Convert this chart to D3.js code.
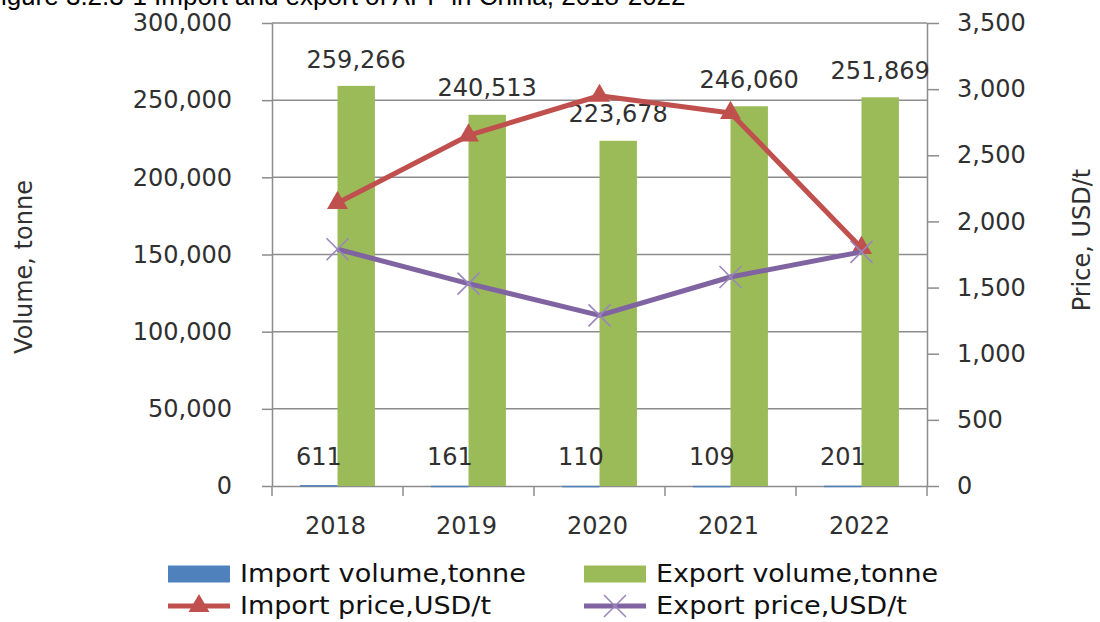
<!DOCTYPE html>
<html>
<head>
<meta charset="utf-8">
<script src="https://cdn.jsdelivr.net/npm/d3@7"></script>
<style>
  html, body { margin: 0; padding: 0; background: #ffffff; }
  svg { display: block; }
</style>
</head>
<body>
<svg id="chart" width="1100" height="622"></svg>
<script>
// Import / export of APP in China, 2018-2022
const years = ["2018", "2019", "2020", "2021", "2022"];
const importVolume = [611, 161, 110, 109, 201];          // tonne
const exportVolume = [259266, 240513, 223678, 246060, 251869]; // tonne
const importPrice = [2140, 2650, 2950, 2820, 1800];      // USD/t
const exportPrice = [1790, 1530, 1290, 1580, 1770];      // USD/t
const volumeTicks = [0, 50000, 100000, 150000, 200000, 250000, 300000];
const priceTicks = [0, 500, 1000, 1500, 2000, 2500, 3000, 3500];
const seriesNames = ["Import volume,tonne", "Export volume,tonne", "Import price,USD/t", "Export price,USD/t"];
const titleText = "Figure 3.2.3-1 Import and export of APP in China, 2018-2022";

const colors = { imp: "#4F81BD", exp: "#9BBB59", impPrice: "#C0504D", expPrice: "#8064A2" };
const gridColor = "#8c8c8c";
const textColor = "#303030";
const numFont = "'DejaVu Sans', Verdana, sans-serif";
const legendFont = "'DejaVu Sans Condensed', 'Liberation Sans Narrow', 'DejaVu Sans', sans-serif";

const svg = d3.select("#chart");
const plotLeft = 272, plotRight = 927, plotTop = 23, plotBottom = 486;

const x = d3.scaleBand().domain(years).range([plotLeft, plotRight]).paddingInner(0).paddingOuter(0);
const xSub = d3.scaleBand().domain(["imp", "exp"]).range([0, x.bandwidth()])
  .paddingInner(0).paddingOuter(0.75);
const yL = d3.scaleLinear().domain([0, 300000]).range([plotBottom, plotTop]);
const yR = d3.scaleLinear().domain([0, 3500]).range([plotBottom, plotTop]);
const fmt = d3.format(",");

// Title (runs off the top edge of the page)
svg.append("text")
  .attr("x", -15).attr("y", 5)
  .attr("font-family", "'Liberation Sans', Arial, sans-serif")
  .attr("font-size", 26)
  .attr("fill", "#000")
  .text(titleText);

// Horizontal gridlines
svg.append("g").selectAll("line")
  .data(volumeTicks.filter(d => d > 0))
  .join("line")
  .attr("x1", plotLeft).attr("x2", plotRight)
  .attr("y1", d => yL(d)).attr("y2", d => yL(d))
  .attr("stroke", gridColor).attr("stroke-width", 1.5);

// Left axis
const gL = svg.append("g").attr("transform", `translate(${plotLeft},0)`)
  .call(d3.axisLeft(yL).tickValues(volumeTicks).tickFormat(fmt).tickSize(10).tickPadding(30).tickSizeOuter(0));
// Right axis
const gR = svg.append("g").attr("transform", `translate(${plotRight},0)`)
  .call(d3.axisRight(yR).tickValues(priceTicks).tickFormat(fmt).tickSize(12).tickPadding(18).tickSizeOuter(0));
[gL, gR].forEach(g => {
  g.select(".domain").attr("stroke", gridColor).attr("stroke-width", 1.5);
  g.selectAll(".tick line").attr("stroke", gridColor).attr("stroke-width", 1.5);
  g.selectAll(".tick text").attr("font-size", 24).attr("fill", textColor).attr("font-family", numFont);
});

// Bottom axis: labels at band centres, ticks at band boundaries
const gB = svg.append("g").attr("transform", `translate(0,${plotBottom})`)
  .call(d3.axisBottom(x).tickSize(0).tickPadding(31));
gB.select(".domain").attr("stroke", gridColor).attr("stroke-width", 1.5);
gB.selectAll(".tick text").attr("font-size", 24).attr("fill", textColor).attr("font-family", numFont)
  .attr("dx", -2);
svg.append("g").selectAll("line")
  .data(years.map(d => x(d)).concat([plotRight]))
  .join("line")
  .attr("x1", d => d).attr("x2", d => d)
  .attr("y1", plotBottom).attr("y2", plotBottom + 10)
  .attr("stroke", gridColor).attr("stroke-width", 1.5);

// Bars
const bars = svg.append("g");
bars.selectAll("rect.imp")
  .data(years.map((y, i) => ({ y, v: importVolume[i] })))
  .join("rect").attr("class", "imp")
  .attr("x", d => x(d.y) + xSub("imp")).attr("width", xSub.bandwidth())
  .attr("y", d => yL(d.v)).attr("height", d => Math.max(1.5, plotBottom - yL(d.v)))
  .attr("fill", colors.imp);
bars.selectAll("rect.exp")
  .data(years.map((y, i) => ({ y, v: exportVolume[i] })))
  .join("rect").attr("class", "exp")
  .attr("x", d => x(d.y) + xSub("exp")).attr("width", xSub.bandwidth())
  .attr("y", d => yL(d.v)).attr("height", d => plotBottom - yL(d.v))
  .attr("fill", colors.exp);

// Bar value labels
const labels = svg.append("g")
  .attr("font-family", numFont).attr("font-size", 24).attr("fill", textColor)
  .attr("text-anchor", "middle");
labels.selectAll("text.imp")
  .data(years.map((y, i) => ({ y, v: importVolume[i] })))
  .join("text").attr("class", "imp")
  .attr("x", d => x(d.y) + xSub("imp") + xSub.bandwidth() / 2)
  .attr("y", d => yL(d.v) - 29).attr("dy", "0.36em")
  .text(d => fmt(d.v));
labels.selectAll("text.exp")
  .data(years.map((y, i) => ({ y, v: exportVolume[i] })))
  .join("text").attr("class", "exp")
  .attr("x", d => x(d.y) + xSub("exp") + xSub.bandwidth() / 2)
  .attr("y", d => yL(d.v) - 27).attr("dy", "0.36em")
  .text(d => fmt(d.v));

// Price lines
const cx = d => x(d) + x.bandwidth() / 2;
const line = d3.line().x(d => cx(d.y)).y(d => yR(d.v));
const impPts = years.map((y, i) => ({ y, v: importPrice[i] }));
const expPts = years.map((y, i) => ({ y, v: exportPrice[i] }));

const tri = d3.symbol().type(d3.symbolTriangle).size(190);
function drawX(sel, cxv, cyv, r) {
  sel.append("path")
    .attr("d", `M${cxv - r},${cyv - r}L${cxv + r},${cyv + r}M${cxv - r},${cyv + r}L${cxv + r},${cyv - r}`)
    .attr("stroke", "#9a86bb").attr("stroke-width", 1.6).attr("fill", "none");
}

svg.append("path").datum(impPts).attr("d", line)
  .attr("fill", "none").attr("stroke", colors.impPrice).attr("stroke-width", 5)
  .attr("stroke-linejoin", "round");
svg.append("g").selectAll("path")
  .data(impPts).join("path")
  .attr("d", tri)
  .attr("transform", d => `translate(${cx(d.y)},${yR(d.v)})`)
  .attr("fill", colors.impPrice);

svg.append("path").datum(expPts).attr("d", line)
  .attr("fill", "none").attr("stroke", colors.expPrice).attr("stroke-width", 5)
  .attr("stroke-linejoin", "round");
const xMarks = svg.append("g");
expPts.forEach(d => drawX(xMarks, cx(d.y), yR(d.v), 11));

// Axis titles
svg.append("text")
  .attr("transform", "translate(32,267) rotate(-90)")
  .attr("text-anchor", "middle")
  .attr("font-family", numFont).attr("font-size", 24).attr("fill", textColor)
  .text("Volume, tonne");
svg.append("text")
  .attr("transform", "translate(1090,240) rotate(-90)")
  .attr("text-anchor", "middle")
  .attr("font-family", numFont).attr("font-size", 24).attr("fill", textColor)
  .text("Price, USD/t");

// Legend
const legendItems = [
  { name: seriesNames[0], kind: "rect", color: colors.imp, x: 168, y: 574, w: 286 },
  { name: seriesNames[1], kind: "rect", color: colors.exp, x: 584, y: 574, w: 282 },
  { name: seriesNames[2], kind: "tri", color: colors.impPrice, x: 168, y: 606, w: 251 },
  { name: seriesNames[3], kind: "x", color: colors.expPrice, x: 584, y: 606, w: 251 }
];
const lg = svg.append("g");
legendItems.forEach(it => {
  if (it.kind === "rect") {
    lg.append("rect").attr("x", it.x).attr("y", it.y - 8.5).attr("width", 62).attr("height", 17)
      .attr("fill", it.color);
  } else {
    lg.append("line").attr("x1", it.x).attr("x2", it.x + 62).attr("y1", it.y).attr("y2", it.y)
      .attr("stroke", it.color).attr("stroke-width", 5);
    if (it.kind === "tri") {
      lg.append("path").attr("d", tri).attr("transform", `translate(${it.x + 31},${it.y})`)
        .attr("fill", it.color);
    } else {
      drawX(lg, it.x + 31, it.y, 11);
    }
  }
  lg.append("text")
    .attr("x", it.x + 72).attr("y", it.y).attr("dy", "0.34em")
    .attr("font-family", legendFont).attr("font-size", 24).attr("fill", "#111")
    .attr("textLength", it.w).attr("lengthAdjust", "spacingAndGlyphs")
    .text(it.name);
});
</script>
</body>
</html>
